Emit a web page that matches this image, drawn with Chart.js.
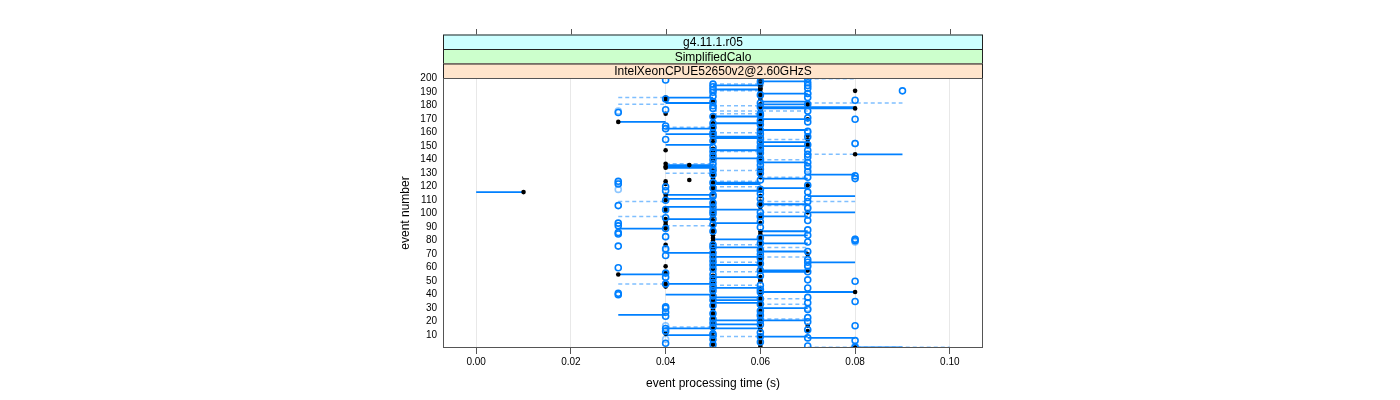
<!DOCTYPE html>
<html>
<head>
<meta charset="utf-8">
<script src="https://cdn.jsdelivr.net/npm/chart.js@4.4.1/dist/chart.umd.min.js"></script>
<style>
  body { margin: 0; background: #fff; }
  #wrap { width: 1400px; height: 400px; }
</style>
</head>
<body>
<div id="wrap"><canvas id="timeChart" width="1400" height="400"></canvas></div>
<script>
// strip labels (top to bottom)
const stripLabels = ["g4.11.1.r05", "SimplifiedCalo", "IntelXeonCPUE52650v2@2.60GHzS"];
const stripColors = ["#ccffff", "#ccffcc", "#ffe5cc"];

// axis ticks
const xTickValues = [0.00, 0.02, 0.04, 0.06, 0.08, 0.10];
const yTickValues = [10, 20, 30, 40, 50, 60, 70, 80, 90, 100, 110, 120, 130, 140, 150, 160, 170, 180, 190, 200];

// black filled points, event 1..200
const blackTime = [
  0.08, 0.06, 0.05, 0.06, 0.05, 0.06, 0.05, 0.06, 0.05, 0.06,
  0.04, 0.05, 0.07, 0.06, 0.05, 0.06, 0.07, 0.05, 0.06, 0.05,
  0.06, 0.05, 0.06, 0.05, 0.06, 0.05, 0.05, 0.06, 0.05, 0.06,
  0.05, 0.06, 0.05, 0.06, 0.05, 0.06, 0.05, 0.06, 0.06, 0.05,
  0.06, 0.08, 0.05, 0.06, 0.05, 0.04, 0.04, 0.04, 0.05, 0.06,
  0.06, 0.05, 0.06, 0.05, 0.03, 0.04, 0.06, 0.07, 0.05, 0.06,
  0.04, 0.05, 0.06, 0.05, 0.06, 0.05, 0.06, 0.05, 0.06, 0.07,
  0.05, 0.06, 0.05, 0.06, 0.05, 0.06, 0.04, 0.05, 0.06, 0.05,
  0.06, 0.05, 0.06, 0.05, 0.06, 0.05, 0.06, 0.05, 0.04, 0.04,
  0.05, 0.04, 0.06, 0.04, 0.05, 0.04, 0.06, 0.05, 0.06, 0.05,
  0.07, 0.04, 0.05, 0.04, 0.06, 0.05, 0.06, 0.05, 0.06, 0.04,
  0.05, 0.04, 0.06, 0.04, 0.05, 0.01, 0.06, 0.05, 0.06, 0.05,
  0.07, 0.04, 0.05, 0.04, 0.045, 0.05, 0.06, 0.05, 0.06, 0.05,
  0.06, 0.05, 0.06, 0.04, 0.04, 0.045, 0.04, 0.06, 0.05, 0.06,
  0.05, 0.06, 0.05, 0.08, 0.06, 0.05, 0.04, 0.05, 0.06, 0.07,
  0.06, 0.07, 0.05, 0.06, 0.07, 0.05, 0.06, 0.07, 0.05, 0.06,
  0.05, 0.06, 0.05, 0.06, 0.05, 0.06, 0.05, 0.03, 0.06, 0.07,
  0.05, 0.05, 0.06, 0.04, 0.06, 0.06, 0.06, 0.08, 0.06, 0.07,
  0.06, 0.07, 0.05, 0.04, 0.06, 0.04, 0.06, 0.06, 0.06, 0.06,
  0.08, 0.06, 0.06, 0.06, 0.06, 0.06, 0.06, 0.06, 0.06, 0.06
];

// blue open circles, event 1..200
const blueTime = [
  0.08, 0.07, 0.05, 0.04, 0.06, 0.08, 0.05, 0.07, 0.06, 0.05,
  0.05, 0.06, 0.04, 0.07, 0.04, 0.05, 0.08, 0.06, 0.05, 0.07,
  0.06, 0.05, 0.07, 0.04, 0.06, 0.05, 0.04, 0.06, 0.07, 0.04,
  0.04, 0.05, 0.06, 0.07, 0.08, 0.05, 0.06, 0.07, 0.05, 0.03,
  0.03, 0.06, 0.05, 0.06, 0.07, 0.05, 0.06, 0.04, 0.05, 0.08,
  0.07, 0.05, 0.04, 0.06, 0.05, 0.04, 0.07, 0.06, 0.05, 0.03,
  0.07, 0.05, 0.06, 0.07, 0.05, 0.07, 0.06, 0.05, 0.04, 0.06,
  0.05, 0.07, 0.06, 0.04, 0.05, 0.03, 0.05, 0.06, 0.07, 0.08,
  0.08, 0.06, 0.04, 0.07, 0.03, 0.03, 0.05, 0.07, 0.04, 0.06,
  0.03, 0.05, 0.03, 0.06, 0.07, 0.05, 0.04, 0.06, 0.07, 0.05,
  0.06, 0.05, 0.04, 0.07, 0.05, 0.03, 0.06, 0.05, 0.07, 0.04,
  0.06, 0.07, 0.05, 0.05, 0.06, 0.07, 0.04, 0.06, 0.05, 0.04,
  0.07, 0.03, 0.05, 0.03, 0.06, 0.08, 0.07, 0.08, 0.05, 0.06,
  0.07, 0.05, 0.06, 0.05, 0.07, 0.06, 0.05, 0.07, 0.06, 0.05,
  0.06, 0.07, 0.05, 0.07, 0.06, 0.05, 0.07, 0.06, 0.05, 0.06,
  0.07, 0.08, 0.06, 0.05, 0.04, 0.06, 0.07, 0.05, 0.06, 0.05,
  0.07, 0.06, 0.04, 0.05, 0.04, 0.06, 0.05, 0.07, 0.06, 0.08,
  0.07, 0.05, 0.06, 0.06, 0.03, 0.07, 0.04, 0.05, 0.06, 0.05,
  0.07, 0.06, 0.05, 0.08, 0.04, 0.07, 0.05, 0.06, 0.07, 0.05,
  0.09, 0.05, 0.07, 0.05, 0.07, 0.05, 0.07, 0.06, 0.04, 0.07
];

// light blue open circles
const lightEvent = [2, 7, 17, 24, 30, 45, 62, 73, 79, 81, 98, 105, 118, 123, 133, 147, 152, 160, 176, 189, 196];
const lightTime = [0.08, 0.04, 0.04, 0.06, 0.07, 0.05, 0.07, 0.04, 0.08, 0.08, 0.06, 0.07, 0.03, 0.03, 0.07, 0.06, 0.08, 0.07, 0.03, 0.07, 0.06];

// solid segments
const solidEvent = [1, 8, 9, 10, 15, 18, 21, 25, 30, 34, 36, 38, 40, 42, 45, 48, 53, 55, 57, 58,
  62, 64, 68, 71, 72, 75, 78, 81, 84, 87, 89, 93, 96, 98, 101, 103, 105, 107, 111, 113,
  114, 116, 117, 119, 122, 123, 126, 129, 134, 135, 136, 138, 141, 144, 147, 150, 151, 153, 156, 157,
  159, 162, 163, 167, 168, 170, 172, 178, 179, 181, 182, 183, 186, 189, 192, 195, 198];
const solidFrom = [0.08, 0.07, 0.06, 0.04, 0.04, 0.05, 0.05, 0.03, 0.06, 0.05, 0.05, 0.05, 0.04, 0.06, 0.05, 0.04, 0.05, 0.03, 0.06, 0.06,
  0.05, 0.07, 0.05, 0.04, 0.06, 0.05, 0.06, 0.05, 0.06, 0.06, 0.03, 0.05, 0.04, 0.06, 0.07, 0.05, 0.04, 0.06, 0.04, 0.07,
  0.04, 0.00, 0.05, 0.06, 0.05, 0.05, 0.06, 0.07, 0.04, 0.04, 0.04, 0.06, 0.05, 0.08, 0.05, 0.06, 0.04, 0.06, 0.05, 0.05,
  0.04, 0.06, 0.04, 0.05, 0.03, 0.06, 0.05, 0.06, 0.06, 0.06, 0.04, 0.06, 0.04, 0.06, 0.05, 0.05, 0.06];
const solidTo = [0.09, 0.08, 0.07, 0.05, 0.06, 0.06, 0.07, 0.04, 0.07, 0.06, 0.06, 0.06, 0.05, 0.08, 0.06, 0.05, 0.06, 0.04, 0.07, 0.07,
  0.06, 0.08, 0.06, 0.05, 0.07, 0.06, 0.07, 0.06, 0.07, 0.07, 0.04, 0.06, 0.05, 0.07, 0.08, 0.06, 0.05, 0.07, 0.05, 0.08,
  0.05, 0.01, 0.06, 0.07, 0.06, 0.06, 0.07, 0.08, 0.05, 0.05, 0.05, 0.07, 0.06, 0.09, 0.06, 0.07, 0.05, 0.07, 0.06, 0.06,
  0.05, 0.07, 0.05, 0.06, 0.04, 0.07, 0.06, 0.08, 0.08, 0.07, 0.05, 0.07, 0.05, 0.07, 0.06, 0.06, 0.07];

// dashed segments
const dashEvent = [1, 9, 16, 22, 33, 37, 42, 47, 48, 57, 64, 68, 75, 77, 91, 98, 101, 106, 109, 109,
  120, 124, 127, 130, 132, 137, 140, 144, 146, 155, 160, 164, 174, 176, 180, 181, 182, 186, 191, 196, 200];
const dashFrom = [0.07, 0.05, 0.04, 0.06, 0.06, 0.06, 0.06, 0.05, 0.03, 0.05, 0.05, 0.06, 0.06, 0.05, 0.04, 0.03, 0.06, 0.06, 0.03, 0.06,
  0.05, 0.05, 0.06, 0.04, 0.05, 0.04, 0.06, 0.07, 0.05, 0.06, 0.05, 0.04, 0.05, 0.05, 0.05, 0.03, 0.07, 0.03, 0.05, 0.05, 0.07];
const dashTo = [0.10, 0.06, 0.05, 0.07, 0.07, 0.07, 0.07, 0.06, 0.04, 0.06, 0.06, 0.07, 0.07, 0.06, 0.05, 0.04, 0.07, 0.07, 0.04, 0.08,
  0.06, 0.06, 0.07, 0.05, 0.06, 0.05, 0.07, 0.08, 0.06, 0.07, 0.06, 0.05, 0.06, 0.07, 0.06, 0.04, 0.09, 0.04, 0.06, 0.06, 0.08];

// 선분 데이터 (null 로 끊기)
function segData(ev, from, to) {
  const d = [];
  ev.forEach((e, i) => {
    d.push({ x: from[i], y: e }, { x: to[i], y: e }, { x: null, y: null });
  });
  return d;
}

const byEvent = (arr) => arr.map((t, i) => ({ x: t, y: i + 1 }));

// 스트립, 위쪽 눈금, 테두리
const latticePlugin = {
  id: "lattice",
  afterDraw(chart) {
    const ctx = chart.ctx;
    const a = chart.chartArea;
    const xs = chart.scales.x;
    const stripTop = [34.5, 49, 63.5];
    const stripH = 14.5;
    ctx.save();
    ctx.lineWidth = 1;
    stripLabels.forEach((label, i) => {
      ctx.fillStyle = stripColors[i];
      ctx.fillRect(a.left, stripTop[i], a.right - a.left, stripH);
      ctx.strokeStyle = "#222";
      ctx.strokeRect(a.left + 0.5, stripTop[i] + 0.5, a.right - a.left - 1, stripH);
      ctx.fillStyle = "#000";
      ctx.font = "12px 'Liberation Sans', Arial, sans-serif";
      ctx.textAlign = "center";
      ctx.textBaseline = "middle";
      ctx.fillText(label, (a.left + a.right) / 2, stripTop[i] + stripH / 2 + 1);
    });
    // top ticks
    ctx.strokeStyle = "#555";
    xTickValues.forEach((v) => {
      const px = Math.round(xs.getPixelForValue(v)) + 0.5;
      ctx.beginPath();
      ctx.moveTo(px, 29);
      ctx.lineTo(px, 34.5);
      ctx.stroke();
    });
    // panel border
    ctx.strokeStyle = "#555";
    ctx.strokeRect(a.left + 0.5, a.top + 0.5, a.right - a.left - 1, a.bottom - a.top - 1);
    ctx.restore();
  }
};

document.addEventListener("DOMContentLoaded", function () {
  const ctx = document.getElementById("timeChart").getContext("2d");
  new Chart(ctx, {
    type: "scatter",
    data: {
      datasets: [
        {
          data: byEvent(blueTime),
          pointStyle: "circle",
          pointRadius: 3,
          pointBackgroundColor: "rgba(0,0,0,0)",
          pointBorderColor: "#0080ff",
          pointBorderWidth: 1.6,
          order: 0
        },
        {
          data: lightEvent.map((e, i) => ({ x: lightTime[i], y: e })),
          pointStyle: "circle",
          pointRadius: 3,
          pointBackgroundColor: "rgba(0,0,0,0)",
          pointBorderColor: "rgba(0,128,255,0.45)",
          pointBorderWidth: 1.6,
          order: 1
        },
        {
          data: byEvent(blackTime),
          pointStyle: "circle",
          pointRadius: 2.3,
          pointBackgroundColor: "#000",
          pointBorderColor: "#000",
          pointBorderWidth: 0,
          order: 2
        },
        {
          data: segData(solidEvent, solidFrom, solidTo),
          showLine: true,
          spanGaps: false,
          borderColor: "#0080ff",
          borderWidth: 1.8,
          pointRadius: 0,
          order: 3
        },
        {
          data: segData(dashEvent, dashFrom, dashTo),
          showLine: true,
          spanGaps: false,
          borderColor: "rgba(0,128,255,0.5)",
          borderWidth: 1.5,
          borderDash: [4, 3],
          pointRadius: 0,
          order: 4
        }
      ]
    },
    options: {
      responsive: false,
      animation: false,
      layout: { padding: { left: 390, right: 417, top: 78, bottom: 0 } },
      plugins: {
        legend: { display: false },
        tooltip: { enabled: false }
      },
      scales: {
        x: {
          type: "linear",
          min: -0.007,
          max: 0.107,
          afterBuildTicks: (scale) => { scale.ticks = xTickValues.map((v) => ({ value: v })); },
          afterFit: (scale) => { scale.height = 52; },
          border: { display: false },
          grid: { color: "#e8e8e8", lineWidth: 1, drawTicks: true, tickLength: 6, tickColor: "#555" },
          ticks: {
            color: "#000",
            padding: 2,
            maxRotation: 0,
            autoSkip: false,
            font: { family: "'Liberation Sans', Arial, sans-serif", size: 10 },
            callback: (v) => Number(v).toFixed(2)
          },
          title: {
            display: true,
            text: "event processing time (s)",
            color: "#000",
            font: { family: "'Liberation Sans', Arial, sans-serif", size: 12 },
            padding: { top: 0, bottom: 9 }
          }
        },
        y: {
          type: "linear",
          min: 0.5,
          max: 200.5,
          afterBuildTicks: (scale) => { scale.ticks = yTickValues.map((v) => ({ value: v })); },
          afterFit: (scale) => { scale.width = 53; },
          border: { display: false },
          grid: { display: false, drawTicks: false },
          ticks: {
            color: "#000",
            padding: 6,
            autoSkip: false,
            font: { family: "'Liberation Sans', Arial, sans-serif", size: 10 }
          },
          title: {
            display: true,
            text: "event number",
            color: "#000",
            font: { family: "'Liberation Sans', Arial, sans-serif", size: 12 },
            padding: { top: 8, bottom: 0 }
          }
        }
      }
    },
    plugins: [latticePlugin]
  });
});
</script>
</body>
</html>
